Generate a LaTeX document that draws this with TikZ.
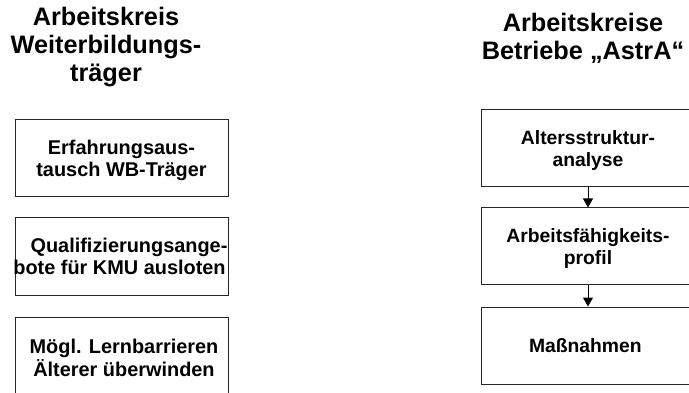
\documentclass[tikz,border=0pt]{standalone}
\usepackage{fontspec}
\setmainfont{Liberation Sans}
\usetikzlibrary{shapes, arrows.meta, positioning}

% line without descender depth
\newcommand{\nodepth}[1]{\raisebox{0pt}[\height][0pt]{#1}}

\begin{document}
\begin{tikzpicture}[
    x=1pt, y=-1pt,
    node distance=20pt,
    title/.style={
        align=center, inner sep=0pt,
        font=\fontsize{25.3}{28}\selectfont\bfseries
    },
    box/.style={
        rectangle,
        draw=black!85, line width=1pt,
        minimum width=214pt,
        minimum height=77pt,
        align=center, inner sep=0pt,
        font=\fontsize{19.3}{22.5}\selectfont\bfseries
    },
    wbbox/.style={
        box,
        minimum width=213pt,
        font=\fontsize{19.9}{22.5}\selectfont\bfseries
    },
    arrow/.style={-{Triangle[length=9pt,width=10pt]}, line width=1pt}
]
\useasboundingbox (0,0) rectangle (689,393);

% Titles
\node[title] (tleft) at (106,47.5) {Arbeitskreis\\Weiterbildungs-\\träger};
\node[title] (tright) at (583,38) {Arbeitskreise\\Betriebe „AstrA“};

% Nodes, left column
\node[wbbox] (wb1) at (121.5,158.5) {%
Erfahrungsaus-\\
\nodepth{tausch WB-Träger}
};

\node[wbbox, below=of wb1] (wb2) {%
\hspace*{15pt}Qualifizierungsange-\\
\makebox[200pt]{bote für KMU ausloten\hspace*{4pt}}
};

\node[wbbox, below=21pt of wb2, minimum height=82pt] (wb3) {%
\hspace*{5pt}Mögl. Lernbarrieren\\
\hspace*{5pt}Älterer überwinden
};

% Nodes, right column
\node[box] (ak1) at (588,148.5) {%
Altersstruktur-\\
\nodepth{analyse}
};

\node[box, below=of ak1] (ak2) {%
Arbeitsfähigkeits-\\
\nodepth{profil}
};

\node[box, below=21pt of ak2] (ak3) {%
Maßnahmen
};

% Arrows
\draw[arrow] (ak1) -- (ak2);
\draw[arrow] (ak2) -- (ak3);

\end{tikzpicture}
\end{document}
